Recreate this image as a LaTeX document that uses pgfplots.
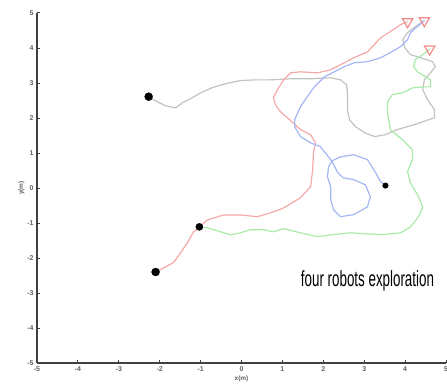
\documentclass[border=0pt]{standalone}
\usepackage{fontspec}
\setmainfont{Liberation Sans}
\usepackage{graphicx}
\usepackage{pgfplots}
\pgfplotsset{compat=1.18}
\definecolor{rl}{RGB}{245,168,168}
\definecolor{bl}{RGB}{165,182,245}
\definecolor{gl}{RGB}{168,234,168}
\definecolor{gy}{RGB}{194,194,194}
\definecolor{tri}{RGB}{242,140,140}
\begin{document}
\begin{tikzpicture}
\begin{axis}[
  name=ax,
  scale only axis,
  width=409bp, height=350bp,
  xmin=-5, xmax=5, ymin=-5, ymax=5,
  axis lines=left,
  axis line style={-, line width=1.7bp, draw=black!75},
  xtick={-5,-4,...,5}, ytick={-5,-4,...,5},
  tick align=inside,
  major tick length=3bp,
  tick style={draw=black!75, line width=1bp},
  ticklabel style={font=\bfseries\fontsize{7}{8}\selectfont, text=black!62},
  /pgf/number format/assume math mode=true,
  xlabel={x(m)}, ylabel={y(m)},
  xlabel style={font=\bfseries\fontsize{6.5}{7}\selectfont, text=black!62, yshift=3bp},
  ylabel style={font=\bfseries\fontsize{6.5}{7}\selectfont, text=black!62, yshift=-4bp},
  clip=false,
]
% gray robot
\addplot[gy, line width=1.2bp, line join=round] coordinates {
(-2.27,2.61) (-2.10,2.49) (-1.86,2.35) (-1.61,2.29) (-1.44,2.44) (-1.25,2.55)
(-1.00,2.72) (-0.71,2.87) (-0.39,2.98) (-0.02,3.07) (0.34,3.09) (0.71,3.09)
(1.20,3.12) (1.69,3.12) (2.18,3.15) (2.42,3.09) (2.57,2.95) (2.59,2.72)
(2.59,2.24) (2.64,1.95) (2.79,1.75) (3.01,1.58) (3.25,1.47) (3.50,1.52)
(3.81,1.67) (4.23,1.81) (4.72,2.01) (4.72,2.24) (4.55,2.52) (4.43,2.81)
(4.47,3.09) (4.62,3.29) (4.74,3.47) (4.67,3.61) (4.38,3.72) (4.13,3.81)
(3.99,4.01) (3.94,4.24) (4.06,4.44) (4.25,4.61) (4.47,4.78)
};
% red robot
\addplot[rl, line width=1.2bp, line join=round] coordinates {
(-2.10,-2.38) (-1.98,-2.33) (-1.66,-2.13) (-1.49,-1.85) (-1.32,-1.56) (-1.17,-1.25)
(-1.03,-1.11) (-0.83,-0.91) (-0.44,-0.77) (-0.02,-0.77) (0.39,-0.82) (0.71,-0.71)
(1.03,-0.57) (1.44,-0.28) (1.69,0.04) (1.74,0.52) (1.76,1.01) (1.81,1.29)
(1.69,1.52) (1.44,1.67) (1.12,2.01) (0.95,2.18) (0.83,2.38) (0.78,2.58)
(0.88,2.81) (1.03,3.09) (1.20,3.29) (1.44,3.32) (1.86,3.29) (2.18,3.38)
(2.42,3.52) (2.74,3.72) (3.08,3.89) (3.40,4.29) (3.64,4.47) (3.89,4.67) (4.06,4.75)
};
% blue robot
\addplot[bl, line width=1.2bp, line join=round] coordinates {
(3.52,0.07) (3.40,0.18) (3.28,0.44) (3.08,0.81) (2.74,0.95) (2.42,0.89)
(2.22,0.78) (2.13,0.61) (2.10,0.32) (2.18,0.04) (2.18,-0.33) (2.25,-0.62)
(2.42,-0.82) (2.74,-0.76) (3.08,-0.54) (3.15,-0.25) (3.03,0.09) (2.74,0.24)
(2.49,0.29) (2.35,0.44) (2.22,0.75) (1.93,1.18) (1.69,1.29) (1.44,1.47)
(1.30,1.75) (1.30,1.95) (1.44,2.32) (1.61,2.61) (1.78,2.89) (2.03,3.18)
(2.27,3.32) (2.52,3.47) (2.76,3.58) (3.08,3.61) (3.40,3.72) (3.64,3.87)
(3.89,4.04) (4.06,4.24) (4.13,4.44) (4.30,4.61) (4.47,4.78)
};
% green robot
\addplot[gl, line width=1.2bp, line join=round] coordinates {
(-1.03,-1.11) (-0.83,-1.14) (-0.51,-1.25) (-0.27,-1.34) (-0.02,-1.28) (0.22,-1.19)
(0.54,-1.19) (0.78,-1.25) (1.03,-1.16) (1.44,-1.28) (1.86,-1.39) (2.25,-1.33)
(2.66,-1.28) (3.03,-1.31) (3.47,-1.33) (3.89,-1.28) (4.13,-1.11) (4.33,-0.82)
(4.43,-0.54) (4.33,-0.25) (4.13,0.15) (4.06,0.47) (4.18,0.81) (4.18,1.09)
(3.94,1.38) (3.64,1.66) (3.57,2.18) (3.57,2.47) (3.69,2.67) (3.94,2.72)
(4.18,2.86) (4.43,2.89) (4.62,2.89) (4.62,3.09) (4.50,3.18) (4.30,3.32)
(4.21,3.47) (4.25,3.67) (4.43,3.81) (4.60,3.97)
};
% end positions
\addplot[only marks, mark=triangle, mark size=6bp,
  mark options={rotate=180, draw=tri, line width=1.2bp, fill=none}] coordinates {
(4.06,4.75) (4.47,4.78) (4.60,3.97)
};
% start positions
\addplot[only marks, mark=*, mark size=4bp, black] coordinates {(-2.27,2.61) (-2.10,-2.40)};
\addplot[only marks, mark=*, mark size=3.6bp, black] coordinates {(-1.03,-1.11)};
\addplot[only marks, mark=*, mark size=2.8bp, black] coordinates {(3.52,0.07)};
\node[anchor=center, inner sep=0pt] at (axis cs:3.08,-2.65)
  {\scalebox{0.61}[1]{\fontsize{22}{24}\selectfont four robots exploration}};
\end{axis}
\pgfresetboundingbox
\path[use as bounding box] ([shift={(-37bp,-24bp)}]ax.south west) rectangle ([shift={(1bp,13bp)}]ax.north east);
\end{tikzpicture}
\end{document}
